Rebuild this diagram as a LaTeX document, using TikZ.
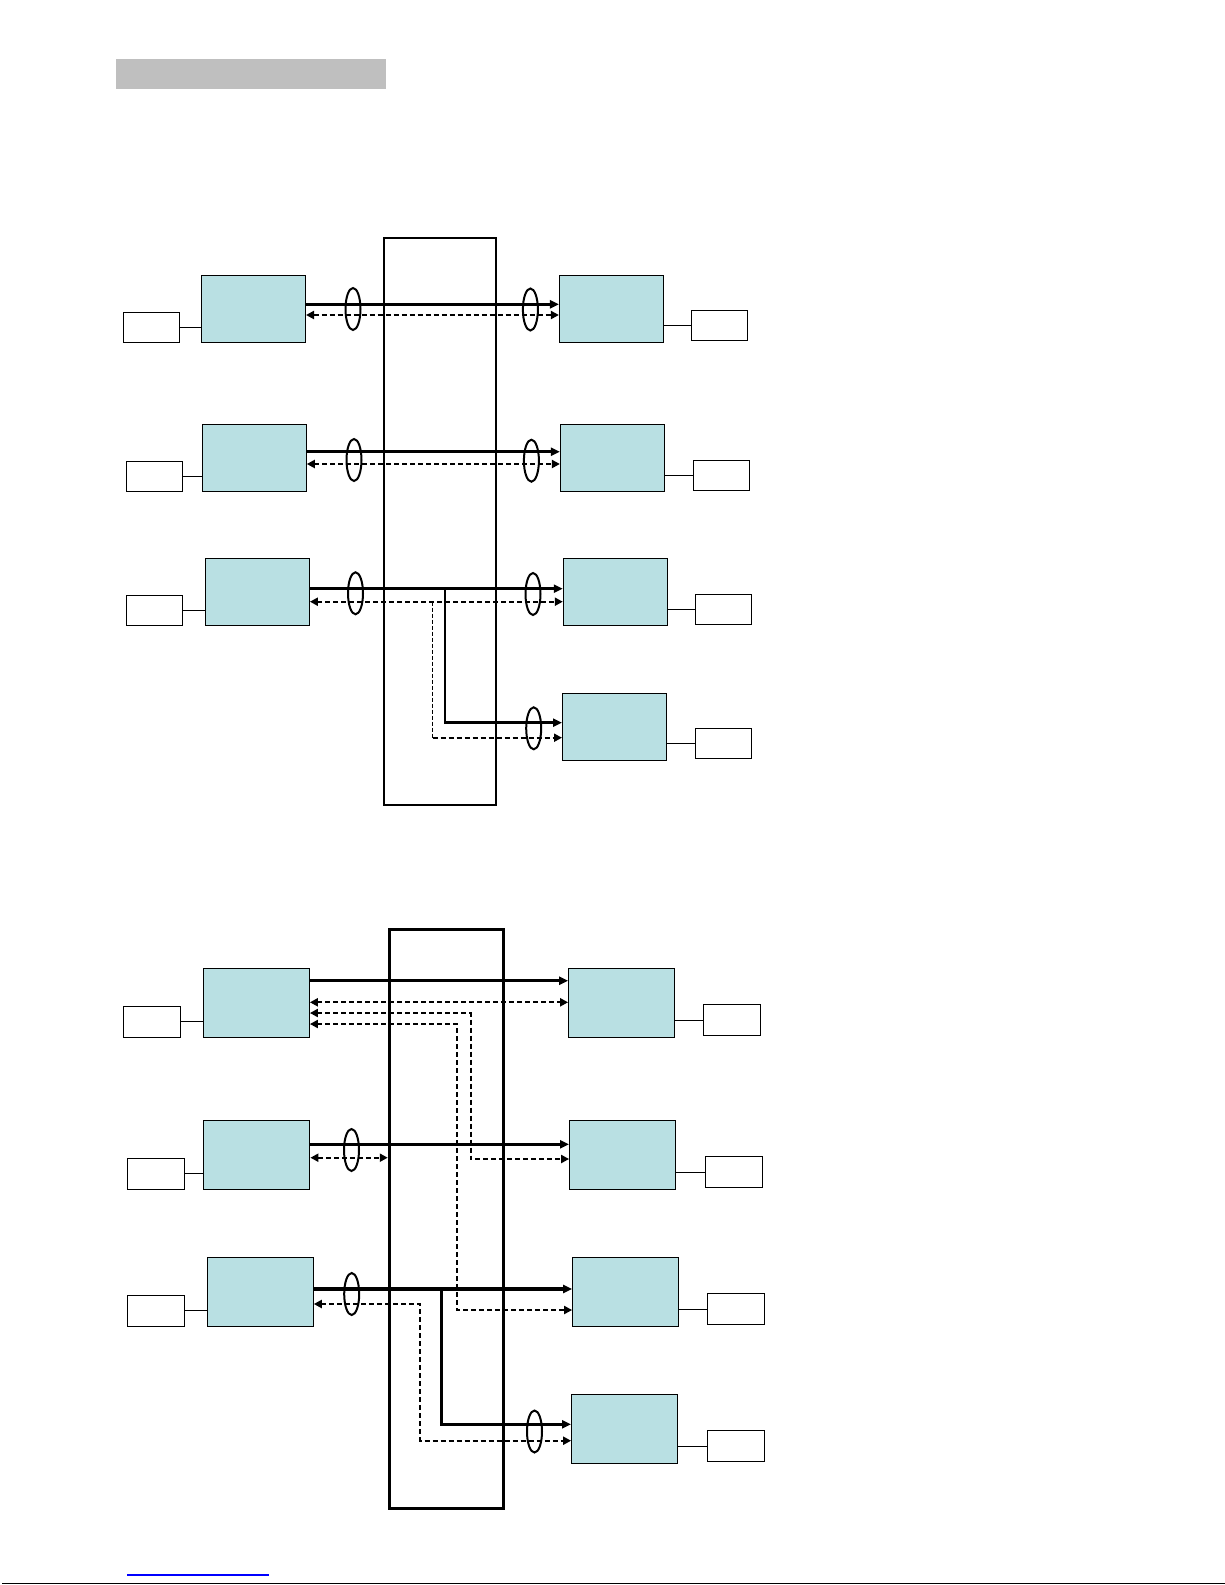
\documentclass[tikz,border=0pt]{standalone}
\usetikzlibrary{arrows.meta,shapes.geometric}
\definecolor{unitfill}{RGB}{185,224,227}
\definecolor{barfill}{RGB}{191,191,191}
\begin{document}
\begin{tikzpicture}[x=1pt,y=-1pt,
  unit/.style={draw,fill=unitfill,line width=1pt,inner sep=0pt,minimum width=104pt,minimum height=67pt},
  bunit/.style={unit,minimum width=106pt,minimum height=69pt},
  port/.style={draw,fill=white,line width=1pt,inner sep=0pt,minimum width=56pt,minimum height=30pt},
  bport/.style={port,minimum width=57pt,minimum height=31pt},
  hub/.style={draw,line width=2pt,inner sep=0pt},
  ring/.style={draw,ellipse,line width=2pt,inner sep=0pt,minimum width=15pt,minimum height=42pt},
  wire/.style={line width=1pt},
  fwd/.style={line width=2.8pt,-{Triangle[length=9pt,width=8pt]}},
  dual/.style={line width=2pt,dash pattern=on 5pt off 3pt,{Triangle[length=8pt,width=8pt]}-{Triangle[length=8pt,width=8pt]}},
  back/.style={line width=2pt,dash pattern=on 5pt off 3pt,-{Triangle[length=8pt,width=8pt]}},
  drop/.style={line width=1pt,dash pattern=on 4pt off 2pt}]

 \useasboundingbox (0,0) rectangle (1225,1585);
 \fill[barfill] (116,59) rectangle (386,88.7);

 % upper picture
 \node[hub,minimum width=112pt,minimum height=567pt] (T) at (440,521.5) {};

 \node[unit] (L1) at (253.5,308.8) {};
 \node[unit] (R1) at (611.4,308.8) {};
 \node[port] (pL1) at (151.3,327.3) {};
 \node[port] (pR1) at (719.3,325.8) {};
 \node[unit] (L2) at (254.3,457.8) {};
 \node[unit] (R2) at (612.4,457.8) {};
 \node[port] (pL2) at (154.5,476.3) {};
 \node[port] (pR2) at (721.4,475.3) {};
 \node[unit] (L3) at (257.4,591.8) {};
 \node[unit] (R3) at (615.3,591.7) {};
 \node[port] (pL3) at (154.5,610.3) {};
 \node[port] (pR3) at (723.3,609.2) {};
 \node[unit] (R4) at (614.5,726.8) {};
 \node[port] (pR4) at (723.3,743.3) {};

 \draw[wire] (pL1) -- (L1.west |- pL1);
 \draw[wire] (pL2) -- (L2.west |- pL2);
 \draw[wire] (pL3) -- (L3.west |- pL3);
 \draw[wire] (R1.east |- pR1) -- (pR1);
 \draw[wire] (R2.east |- pR2) -- (pR2);
 \draw[wire] (R3.east |- pR3) -- (pR3);
 \draw[wire] (R4.east |- pR4) -- (pR4);

 \draw[fwd] (L1.east |- 0,304.3) -- (R1.west |- 0,304.3);
 \draw[dual] (L1.east |- 0,315) -- (R1.west |- 0,315);
 \draw[fwd] (L2.east |- 0,451.7) -- (R2.west |- 0,451.7);
 \draw[dual] (L2.east |- 0,464) -- (R2.west |- 0,464);

 \coordinate (s3) at (445,588.7);
 \coordinate (s4) at (445,722.7);
 \coordinate (d3) at (432.5,601.7);
 \coordinate (d4) at (432.5,737.7);
 \draw[fwd] (L3.east |- s3) -- (R3.west |- s3);
 \draw[fwd] (s3) -- (s4) -- (R4.west |- s4);
 \draw[dual] (L3.east |- d3) -- (R3.west |- d3);
 \draw[drop] (d3) -- (d4);
 \draw[back] (d4) -- (R4.west |- d4);

 \node[ring] (e1) at (353,309) {};
 \node[ring] (e2) at (530.4,309.5) {};
 \node[ring] (e3) at (354,460) {};
 \node[ring] (e4) at (531.4,460.7) {};
 \node[ring] (e5) at (355.5,593.3) {};
 \node[ring] (e6) at (533,594) {};
 \node[ring] (e7) at (533.7,728.3) {};

 % lower picture
 \node[hub,line width=3pt,minimum width=114.5pt,minimum height=578.7pt] (B) at (446.5,1219.3) {};

 \node[bunit] (BL1) at (256.4,1002.8) {};
 \node[bunit] (BR1) at (621.6,1002.8) {};
 \node[bport] (bpL1) at (152.2,1021.8) {};
 \node[bport] (bpR1) at (732,1020.3) {};
 \node[bunit] (BL2) at (256.9,1154.8) {};
 \node[bunit] (BR2) at (622.6,1154.8) {};
 \node[bport] (bpL2) at (156,1173.8) {};
 \node[bport] (bpR2) at (734,1172.2) {};
 \node[bunit] (BL3) at (260.3,1291.8) {};
 \node[bunit] (BR3) at (625.6,1291.8) {};
 \node[bport] (bpL3) at (156,1310.8) {};
 \node[bport] (bpR3) at (736.1,1309.3) {};
 \node[bunit] (BR4) at (624.6,1428.8) {};
 \node[bport] (bpR4) at (736.1,1446.3) {};

 \draw[wire] (bpL1) -- (BL1.west |- bpL1);
 \draw[wire] (bpL2) -- (BL2.west |- bpL2);
 \draw[wire] (bpL3) -- (BL3.west |- bpL3);
 \draw[wire] (BR1.east |- bpR1) -- (bpR1);
 \draw[wire] (BR2.east |- bpR2) -- (bpR2);
 \draw[wire] (BR3.east |- bpR3) -- (bpR3);
 \draw[wire] (BR4.east |- bpR4) -- (bpR4);

 \draw[fwd,line width=3.2pt] (BL1.east |- 0,980.7) -- (BR1.west |- 0,980.7);
 \draw[dual] (BL1.east |- 0,1002.3) -- (BR1.west |- 0,1002.3);
 \coordinate (k1) at (470.9,1013);
 \coordinate (k2) at (470.9,1159);
 \draw[dual] (BL1.east |- k1) -- (k1) -- (k2) -- (BR2.west |- k2);
 \coordinate (m1) at (457.3,1024);
 \coordinate (m2) at (457.3,1310);
 \draw[dual] (BL1.east |- m1) -- (m1) -- (m2) -- (BR3.west |- m2);

 \draw[fwd,line width=3.2pt] (BL2.east |- 0,1144.3) -- (BR2.west |- 0,1144.3);
 \draw[dual] (BL2.east |- 0,1157.7) -- (B.west |- 0,1157.7);

 \coordinate (n1) at (441.5,1289);
 \coordinate (n2) at (441.5,1424.3);
 \draw[fwd,line width=3.2pt] (BL3.east |- n1) -- (BR3.west |- n1);
 \draw[fwd,line width=3.2pt] (n1) -- (n2) -- (BR4.west |- n2);
 \coordinate (q1) at (420,1304);
 \coordinate (q2) at (420,1440.7);
 \draw[dual] (BL3.east |- q1) -- (q1) -- (q2) -- (BR4.west |- q2);

 \node[ring] (f1) at (351.5,1150) {};
 \node[ring] (f2) at (351.7,1294) {};
 \node[ring] (f3) at (534.5,1431.5) {};

 \draw[blue,line width=1.3pt] (127,1575) -- (269,1575);
 \draw[line width=1.2pt] (2,1583.8) -- (1225,1583.8);
\end{tikzpicture}
\end{document}
